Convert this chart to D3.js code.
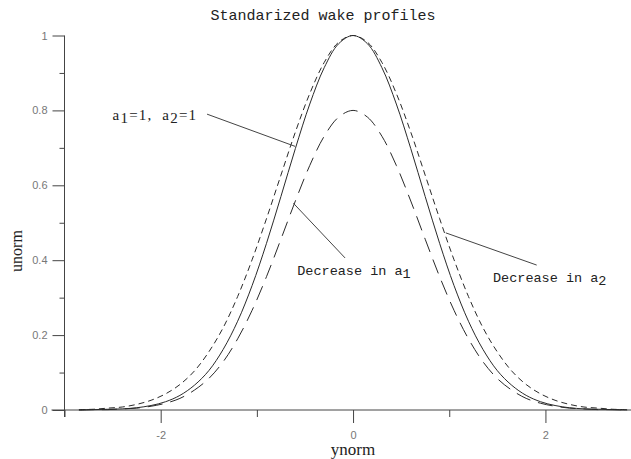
<!DOCTYPE html>
<html>
<head>
<meta charset="utf-8">
<script src="https://cdn.jsdelivr.net/npm/d3@7"></script>
<style>
  html, body { margin: 0; padding: 0; background: #fff; }
  svg { display: block; }
</style>
</head>
<body>
<svg id="chart" width="631" height="459"></svg>
<script>
// Normalised lateral coordinate
const yNorm = [-2.85, -2.70, -2.55, -2.40, -2.25, -2.10, -1.95, -1.80, -1.65, -1.50,
               -1.35, -1.20, -1.05, -0.90, -0.75, -0.60, -0.45, -0.30, -0.15, 0.00,
                0.15,  0.30,  0.45,  0.60,  0.75,  0.90,  1.05,  1.20,  1.35,  1.50,
                1.65,  1.80,  1.95,  2.10,  2.25,  2.40,  2.55,  2.70,  2.85];

// Reference profile, a1 = 1, a2 = 1
const profileRef = [0.000, 0.001, 0.002, 0.003, 0.006, 0.012, 0.022, 0.039, 0.066, 0.105,
                    0.162, 0.237, 0.332, 0.445, 0.570, 0.698, 0.817, 0.914, 0.978, 1.000,
                    0.978, 0.914, 0.817, 0.698, 0.570, 0.445, 0.332, 0.237, 0.162, 0.105,
                    0.066, 0.039, 0.022, 0.012, 0.006, 0.003, 0.002, 0.001, 0.000];

// Profile with a decreased a1 (lower peak)
const profileLowA1 = [0.000, 0.001, 0.001, 0.003, 0.005, 0.010, 0.018, 0.031, 0.053, 0.084,
                      0.129, 0.190, 0.266, 0.356, 0.456, 0.558, 0.653, 0.731, 0.782, 0.800,
                      0.782, 0.731, 0.653, 0.558, 0.456, 0.356, 0.266, 0.190, 0.129, 0.084,
                      0.053, 0.031, 0.018, 0.010, 0.005, 0.003, 0.001, 0.001, 0.000];

// Profile with a decreased a2 (wider)
const profileLowA2 = [0.001, 0.002, 0.005, 0.008, 0.015, 0.026, 0.043, 0.068, 0.104, 0.155,
                      0.220, 0.303, 0.401, 0.511, 0.627, 0.742, 0.845, 0.928, 0.982, 1.000,
                      0.982, 0.928, 0.845, 0.742, 0.627, 0.511, 0.401, 0.303, 0.220, 0.155,
                      0.104, 0.068, 0.043, 0.026, 0.015, 0.008, 0.005, 0.002, 0.001];

const xMajorTicks = [-2, 0, 2];
const xMinorTicks = [-3, -1, 1];
const yMajorTicks = [0, 0.2, 0.4, 0.6, 0.8, 1];
const yMinorTicks = [0.1, 0.3, 0.5, 0.7, 0.9];
const yTickLabels = ["0", "0.2", "0.4", "0.6", "0.8", "1"];

const svg = d3.select("#chart");
const ink = "#2a2a2a";

const x = d3.scaleLinear().domain([-3, 2.9]).range([64.5, 632]);
const y = d3.scaleLinear().domain([0, 1]).range([410, 35.5]);

// ---- axes ----
const gx = svg.append("g").attr("transform", `translate(0,${y(0)})`);
gx.append("g").call(d3.axisBottom(x).tickValues(xMajorTicks).tickSize(13).tickPadding(8)
      .tickFormat(d => d3.format("")(d).replace("−", "-")));
gx.append("g").call(d3.axisBottom(x).tickValues(xMinorTicks).tickSize(7).tickFormat(""));
gx.selectAll(".domain").remove();
gx.append("line").attr("x1", x(-3) - 13).attr("x2", 631).attr("stroke", "#444");

const gy = svg.append("g").attr("transform", `translate(${x(-3)},0)`);
gy.append("g").call(d3.axisLeft(y).tickValues(yMajorTicks).tickSize(12).tickPadding(5)
      .tickFormat((d, i) => yTickLabels[i]));
gy.append("g").call(d3.axisLeft(y).tickValues(yMinorTicks).tickSize(5).tickFormat(""));
gy.selectAll(".domain").remove();
gy.append("line").attr("y1", y(1)).attr("y2", y(0) + 7).attr("stroke", "#444");

svg.selectAll(".tick line").attr("stroke", "#444");
svg.selectAll(".tick text")
  .attr("fill", "#777")
  .style("font-family", "'Liberation Sans', Arial, sans-serif")
  .style("font-size", "11px");

// ---- curves ----
const line = d3.line()
  .x((d, i) => x(yNorm[i]))
  .y(d => y(d))
  .curve(d3.curveCatmullRom);

const series = [
  { values: profileLowA2, dash: "6,4" },
  { values: profileLowA1, dash: "15,8" },
  { values: profileRef,   dash: null }
];
svg.append("g").selectAll("path").data(series).join("path")
  .attr("d", s => line(s.values))
  .attr("fill", "none")
  .attr("stroke", ink)
  .attr("stroke-width", 1)
  .attr("stroke-dasharray", s => s.dash);

// ---- annotations ----
const mono = "'Liberation Mono', 'Courier New', monospace";
const serif = "'Liberation Serif', 'Times New Roman', serif";

const leaders = [
  { from: [-1.518, 0.790], to: [-0.603, 0.704] },
  { from: [-0.083, 0.406], to: [-0.620, 0.552] },
  { from: [ 1.909, 0.387], to: [ 0.964, 0.473] }
];
svg.append("g").selectAll("line").data(leaders).join("line")
  .attr("x1", d => x(d.from[0])).attr("y1", d => y(d.from[1]))
  .attr("x2", d => x(d.to[0])).attr("y2", d => y(d.to[1]))
  .attr("stroke", "#444").attr("stroke-width", 1);

function subLabel(px, py, parts, family, size, spacing) {
  const t = svg.append("text").attr("x", px).attr("y", py)
    .attr("fill", "#222")
    .style("white-space", "pre")
    .style("font-family", family).style("font-size", size + "px")
    .style("letter-spacing", (spacing || 0) + "px");
  parts.forEach(p => {
    t.append("tspan").attr("dy", p.sub ? 3 : (p.after ? -3 : 0)).text(p.text);
  });
  return t;
}

subLabel(x(-2.50), y(0.774), [
  { text: "a" }, { text: "1", sub: true }, { text: "=1,  a", after: true },
  { text: "2", sub: true }, { text: "=1", after: true }
], serif, 15, 1.2);

subLabel(x(-0.58), y(0.36), [
  { text: "Decrease in a" }, { text: "1", sub: true }
], mono, 13.5);

subLabel(x(1.455), y(0.342), [
  { text: "Decrease in a" }, { text: "2", sub: true }
], mono, 13.5);

// ---- title and axis titles ----
svg.append("text").attr("x", 323).attr("y", 20).attr("text-anchor", "middle")
  .attr("fill", "#222").style("font-family", mono).style("font-size", "15px")
  .text("Standarized wake profiles");

svg.append("text").attr("x", x(0)).attr("y", 455).attr("text-anchor", "middle")
  .attr("fill", "#222").style("font-family", serif).style("font-size", "17px")
  .text("ynorm");

svg.append("text").attr("transform", "translate(22,251) rotate(-90)")
  .attr("text-anchor", "middle")
  .attr("fill", "#222").style("font-family", serif).style("font-size", "16px")
  .text("unorm");
</script>
</body>
</html>
